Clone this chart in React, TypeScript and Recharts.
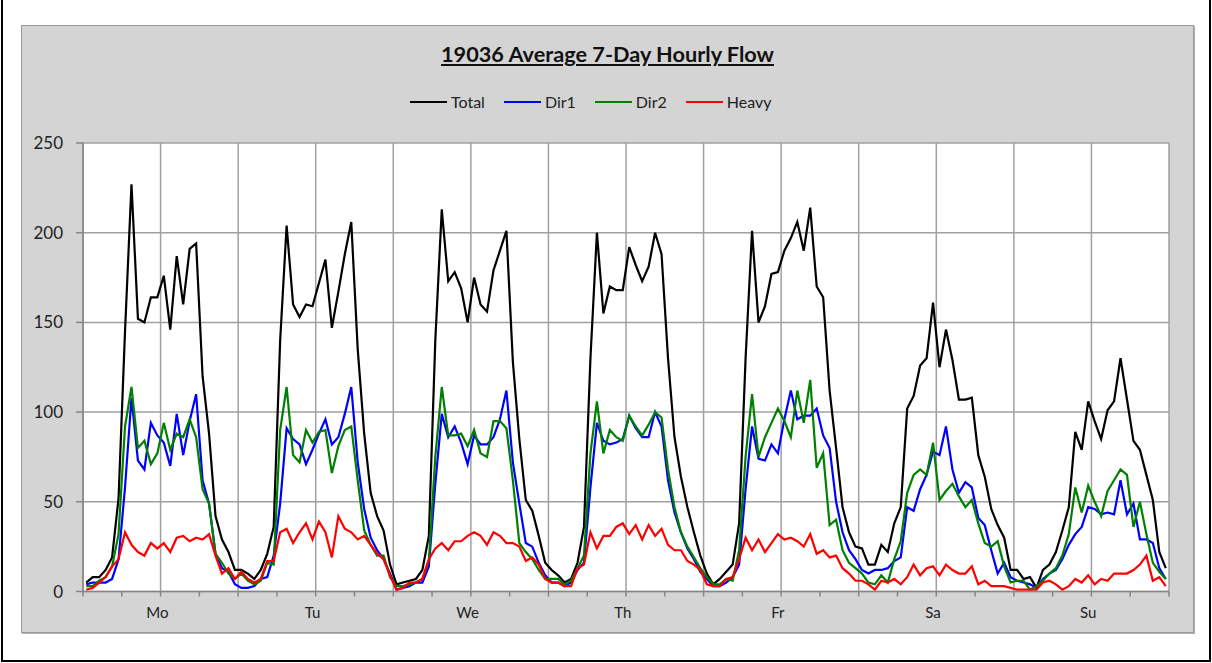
import { LineChart, Line, XAxis, YAxis, CartesianGrid } from 'recharts'

const days = ['Mo', 'Tu', 'We', 'Th', 'Fr', 'Sa', 'Su']

// hourly values, Mo 00h .. Su 23h (24 per day)
const total = [
  5, 8, 8, 12, 19, 52, 145, 227, 152, 150, 164, 164, 176, 146, 187, 160, 191, 194, 120, 88, 42, 29, 22, 12,
  12, 10, 7, 12, 21, 36, 140, 204, 160, 153, 160, 159, 172, 185, 147, 167, 188, 206, 135, 88, 55, 42, 34, 15,
  4, 5, 6, 7, 12, 31, 140, 213, 173, 178, 169, 150, 175, 160, 156, 179, 190, 201, 128, 85, 51, 45, 31, 16,
  12, 9, 5, 7, 16, 36, 130, 200, 155, 170, 168, 168, 192, 182, 173, 181, 200, 188, 130, 86, 64, 47, 33, 20,
  10, 4, 7, 11, 15, 38, 130, 201, 150, 159, 177, 178, 190, 197, 206, 190, 214, 170, 164, 112, 80, 47, 33, 25,
  24, 15, 15, 26, 22, 38, 47, 102, 109, 126, 130, 161, 125, 146, 129, 107, 107, 108, 76, 64, 46, 37, 30, 12,
  12, 7, 8, 2, 12, 15, 22, 34, 47, 89, 79, 106, 95, 85, 101, 106, 130, 107, 84, 79, 65, 51, 22, 13,
]

const dir1 = [
  4, 5, 5, 5, 7, 18, 58, 108, 73, 68, 94, 87, 83, 70, 99, 76, 95, 110, 62, 49, 21, 13, 11, 4,
  2, 2, 3, 7, 8, 20, 49, 91, 85, 82, 71, 79, 88, 96, 82, 86, 99, 114, 72, 46, 30, 23, 18, 10,
  1, 2, 3, 5, 5, 14, 60, 99, 86, 92, 83, 71, 87, 82, 82, 86, 96, 112, 72, 49, 27, 25, 16, 9,
  5, 5, 3, 5, 12, 16, 58, 94, 84, 82, 83, 85, 98, 91, 86, 86, 100, 92, 62, 44, 33, 24, 18, 11,
  7, 3, 3, 5, 8, 15, 57, 92, 74, 73, 82, 77, 96, 112, 96, 98, 98, 102, 87, 80, 50, 33, 23, 18,
  12, 10, 12, 12, 13, 17, 19, 47, 45, 57, 65, 78, 76, 92, 68, 55, 61, 58, 41, 37, 23, 10, 16, 8,
  6, 5, 4, 2, 7, 10, 12, 18, 26, 32, 36, 47, 46, 43, 44, 43, 62, 43, 49, 29, 29, 27, 13, 7,
]

const dir2 = [
  3, 3, 6, 8, 14, 32, 92, 114, 80, 84, 71, 77, 94, 79, 88, 86, 96, 86, 57, 49, 21, 16, 10, 7,
  10, 6, 4, 6, 16, 15, 90, 114, 76, 72, 90, 83, 89, 90, 66, 81, 90, 92, 62, 34, 26, 20, 20, 8,
  3, 3, 4, 5, 7, 17, 75, 114, 87, 87, 88, 81, 90, 77, 75, 95, 95, 91, 62, 27, 22, 18, 12, 7,
  7, 7, 4, 6, 13, 20, 77, 106, 77, 90, 86, 84, 98, 92, 87, 93, 100, 97, 68, 47, 33, 25, 19, 13,
  8, 4, 4, 7, 6, 23, 75, 110, 75, 86, 94, 102, 95, 86, 112, 94, 118, 69, 77, 37, 40, 23, 16, 13,
  10, 5, 4, 9, 5, 18, 28, 55, 65, 68, 65, 83, 51, 56, 60, 53, 47, 51, 38, 27, 25, 28, 14, 5,
  6, 6, 1, 3, 6, 10, 13, 20, 32, 58, 44, 59, 50, 42, 56, 62, 68, 65, 36, 50, 32, 16, 11, 7,
]

const heavy = [
  1, 2, 5, 8, 14, 18, 33, 26, 22, 20, 27, 24, 27, 22, 30, 31, 28, 30, 29, 32, 20, 10, 13, 7,
  11, 7, 5, 7, 17, 17, 33, 35, 27, 33, 38, 29, 39, 33, 19, 42, 35, 33, 29, 31, 26, 21, 18, 9,
  1, 2, 5, 5, 7, 18, 24, 27, 23, 28, 28, 31, 33, 31, 26, 33, 31, 27, 27, 25, 17, 19, 15, 7,
  5, 5, 3, 3, 13, 15, 33, 24, 31, 31, 36, 38, 32, 37, 29, 37, 31, 35, 26, 23, 23, 17, 15, 12,
  4, 3, 3, 7, 8, 18, 30, 23, 29, 22, 27, 32, 29, 30, 28, 25, 32, 21, 23, 19, 20, 13, 10, 6,
  6, 4, 1, 6, 5, 7, 4, 8, 15, 9, 13, 14, 9, 15, 12, 10, 10, 14, 4, 6, 3, 3, 3, 2,
  1, 1, 1, 1, 5, 6, 4, 1, 3, 7, 5, 9, 4, 7, 6, 10, 10, 10, 12, 15, 20, 6, 8, 3,
]

const yTicks = [0, 50, 100, 150, 200, 250]

const series = [
  { key: 'total', name: 'Total', color: '#000000' },
  { key: 'dir1', name: 'Dir1', color: '#0000ff' },
  { key: 'dir2', name: 'Dir2', color: '#008000' },
  { key: 'heavy', name: 'Heavy', color: '#ff0000' },
]

// each point sits in the middle of its hour slot
const data = total.map((v, i) => ({
  hour: i + 0.5,
  total: v,
  dir1: dir1[i],
  dir2: dir2[i],
  heavy: heavy[i],
}))

const gridHours = Array.from({ length: 15 }, (_, i) => i * 12)
const markHours = Array.from({ length: 29 }, (_, i) => i * 6)
const labelHours = days.map((_, i) => i * 24 + 11.5)

const font = 'Lato, "Open Sans", sans-serif'
const textColor = '#222'
const axisColor = '#868686'

export default function App() {
  return (
    <div
      style={{
        position: 'fixed',
        left: 0,
        top: 0,
        width: 1212,
        height: 663,
        background: '#fff',
        fontFamily: font,
        overflow: 'hidden',
      }}
    >
      <div
        style={{
          position: 'absolute',
          left: 1,
          top: -3,
          width: 1210,
          height: 665,
          border: '2px solid #000',
          boxSizing: 'border-box',
        }}
      />
      <div
        style={{
          position: 'absolute',
          left: 21,
          top: 25,
          width: 1173,
          height: 608,
          background: '#d4d4d4',
          border: '1px solid #9a9a9a',
          boxShadow: '1px 1px 0 #b0b0b0',
          boxSizing: 'border-box',
        }}
      />
      <div
        style={{
          position: 'absolute',
          left: 21,
          top: 41,
          width: 1173,
          textAlign: 'center',
          fontSize: 21.7,
          fontWeight: 700,
          color: '#111',
          textDecoration: 'underline',
        }}
      >
        19036 Average 7-Day Hourly Flow
      </div>
      <div
        style={{
          position: 'absolute',
          left: 410,
          top: 92,
          display: 'flex',
          alignItems: 'center',
          fontSize: 16,
          color: textColor,
        }}
      >
        {series.map((s) => (
          <div key={s.key} style={{ display: 'flex', alignItems: 'center', marginRight: 19 }}>
            <span style={{ display: 'inline-block', width: 37, height: 2, background: s.color, marginRight: 4 }} />
            <span>{s.name}</span>
          </div>
        ))}
      </div>
      <div style={{ position: 'absolute', left: 0, top: 0 }}>
        <LineChart
          width={1212}
          height={663}
          data={data}
          margin={{ top: 143, right: 43, left: 23, bottom: 36.5 }}
        >
          <CartesianGrid
            xAxisId="a"
            stroke="#a0a0a0"
            strokeWidth={1.5}
            fill="#ffffff"
            fillOpacity={1}
            verticalValues={gridHours}
          />
          <XAxis
            xAxisId="b"
            type="number"
            dataKey="hour"
            domain={[0, 168]}
            ticks={labelHours}
            interval={0}
            tickFormatter={(v: number) => days[Math.floor(v / 24)]}
            axisLine={false}
            tickLine={false}
            tickMargin={5}
            height={30}
            tick={{ fill: textColor, fontSize: 15, fontFamily: font }}
          />
          <XAxis
            xAxisId="a"
            type="number"
            dataKey="hour"
            domain={[0, 168]}
            ticks={markHours}
            interval={0}
            tickFormatter={() => ''}
            tickSize={5}
            height={5}
            axisLine={{ stroke: axisColor, strokeWidth: 1.5 }}
            tickLine={{ stroke: axisColor, strokeWidth: 1.5 }}
          />
          <YAxis
            domain={[0, 250]}
            ticks={yTicks}
            interval={0}
            width={60}
            tickSize={7}
            tickMargin={13}
            axisLine={{ stroke: axisColor, strokeWidth: 1.5 }}
            tickLine={{ stroke: axisColor, strokeWidth: 1.5 }}
            tick={{ fill: textColor, fontSize: 17, fontFamily: font }}
          />
          {series.map((s) => (
            <Line
              key={s.key}
              xAxisId="a"
              type="linear"
              dataKey={s.key}
              name={s.name}
              stroke={s.color}
              strokeWidth={2.2}
              dot={false}
              isAnimationActive={false}
            />
          ))}
        </LineChart>
      </div>
    </div>
  )
}
